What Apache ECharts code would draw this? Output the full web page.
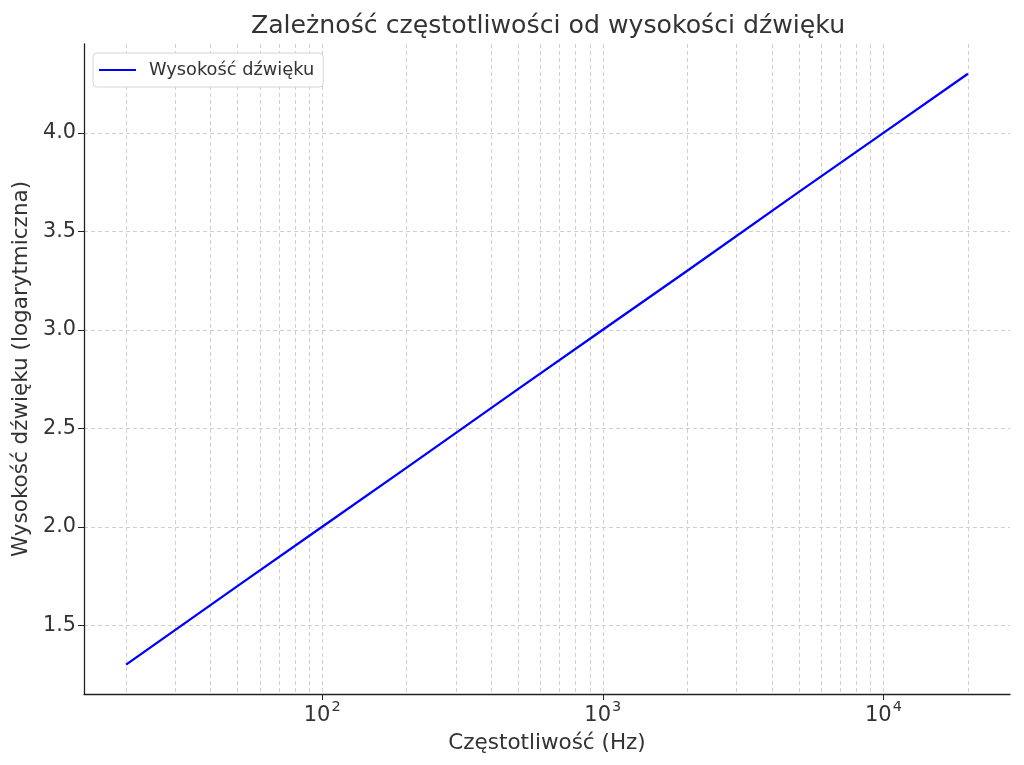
<!DOCTYPE html>
<html>
<head>
<meta charset="utf-8">
<script src="https://cdn.jsdelivr.net/npm/echarts@6/dist/echarts.min.js"></script>
<style>
  html, body { margin: 0; padding: 0; background: #fff; }
  #main { width: 1024px; height: 765px; }
</style>
</head>
<body>
<div id="main"></div>
<script>
// dane
var frequencies = [20, 50, 100, 200, 500, 1000, 2000, 5000, 10000, 20000];
var pitch = [1.30, 1.70, 2.00, 2.30, 2.70, 3.00, 3.30, 3.70, 4.00, 4.30];
var xMajorTicks = [100, 1000, 10000];
var xGridValues = [20, 30, 40, 50, 60, 70, 80, 90, 100,
    200, 300, 400, 500, 600, 700, 800, 900, 1000,
    2000, 3000, 4000, 5000, 6000, 7000, 8000, 9000, 10000, 20000];
var yTicks = [1.5, 2.0, 2.5, 3.0, 3.5, 4.0];

var lineData = [];
for (var i = 0; i < frequencies.length; i++) {
    lineData.push([frequencies[i], pitch[i]]);
}

var textColor = '#333';
var font = 'DejaVu Sans';

var myChart = echarts.init(document.getElementById('main'));
var option = {
    animation: false,
    backgroundColor: '#fff',
    title: {
        text: 'Zależność częstotliwości od wysokości dźwięku',
        left: 543,
        textAlign: 'center',
        top: 9,
        textStyle: { color: textColor, fontFamily: font, fontSize: 25.2, fontWeight: 'normal' }
    },
    legend: {
        left: 93,
        top: 53,
        padding: [8, 9, 8, 6],
        itemWidth: 37,
        itemHeight: 2,
        icon: 'rect',
        borderColor: '#d6d6d6',
        borderWidth: 1,
        borderRadius: 4,
        backgroundColor: '#fff',
        textStyle: { color: textColor, fontFamily: font, fontSize: 17.8, padding: [0, 0, 0, 8], lineHeight: 18 },
        data: ['Wysokość dźwięku']
    },
    grid: { left: 84, right: 14, top: 44, bottom: 71 },
    xAxis: [{
        type: 'log',
        logBase: 10,
        min: 14.16,
        max: 28250,
        name: 'Częstotliwość (Hz)',
        nameLocation: 'middle',
        nameGap: 38,
        nameTextStyle: { color: textColor, fontFamily: font, fontSize: 21.5 },
        axisLine: { onZero: false, lineStyle: { color: '#222', width: 1.3 } },
        axisTick: { customValues: xMajorTicks, length: 6, lineStyle: { color: '#222' } },
        axisLabel: {
            customValues: xMajorTicks,
            color: textColor, fontFamily: font, margin: 6,
            formatter: function (v) {
                var e = Math.round(Math.log10(v));
                return '{b|10}{s|' + e + '}';
            },
            rich: {
                b: { fontSize: 21, fontFamily: font, color: textColor, verticalAlign: 'bottom', lineHeight: 26 },
                s: { fontSize: 14.5, fontFamily: font, color: textColor, verticalAlign: 'top', lineHeight: 26, padding: [0, 0, 10, 1] }
            }
        },
        splitLine: { show: false }
    }, {
        type: 'log',
        logBase: 10,
        min: 14.16,
        max: 28250,
        position: 'bottom',
        axisLine: { show: false },
        axisLabel: { show: false },
        axisTick: { show: false, customValues: xGridValues },
        splitLine: { show: true, lineStyle: { color: '#d0d0d0', type: [4, 3], width: 1 } }
    }],
    yAxis: {
        type: 'value',
        min: 1.151,
        max: 4.451,
        name: 'Wysokość dźwięku (logarytmiczna)',
        nameLocation: 'middle',
        nameGap: 51,
        nameRotate: 90,
        nameTextStyle: { color: textColor, fontFamily: font, fontSize: 21.5 },
        axisLine: { show: true, lineStyle: { color: '#222', width: 1.3 } },
        axisTick: { show: true, customValues: yTicks, length: 6, lineStyle: { color: '#222' } },
        axisLabel: {
            customValues: yTicks,
            color: textColor, fontFamily: font, fontSize: 20.8, margin: 8,
            formatter: function (v) { return v.toFixed(1); }
        },
        splitLine: { show: true, lineStyle: { color: '#d0d0d0', type: [4, 3], width: 1 } }
    },
    series: [{
        name: 'Wysokość dźwięku',
        type: 'line',
        xAxisIndex: 0,
        data: lineData,
        symbol: 'none',
        lineStyle: { color: '#0000ff', width: 2.3 },
        itemStyle: { color: '#0000ff' }
    }]
};
myChart.setOption(option);
</script>
</body>
</html>
